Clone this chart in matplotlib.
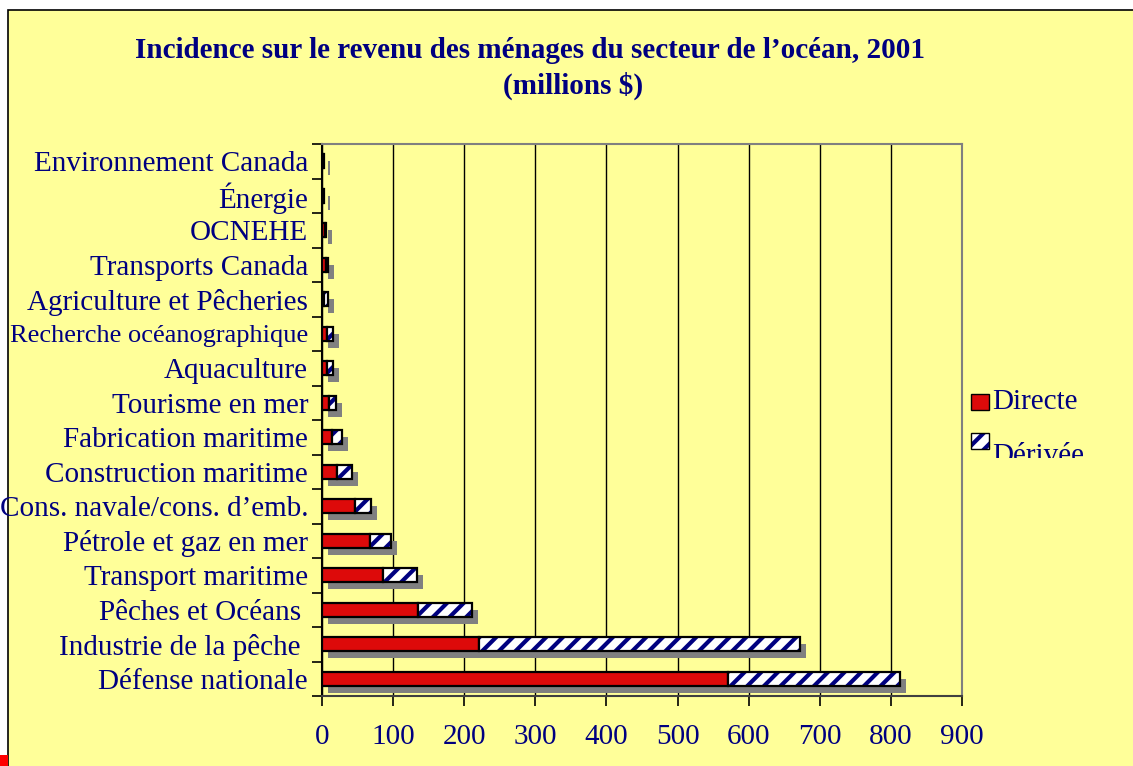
import numpy as np
import matplotlib
matplotlib.use('Agg')
import matplotlib.pyplot as plt
import matplotlib.transforms as mtransforms
from matplotlib.patches import Rectangle

# data, top to bottom as in the chart
categories = ["Environnement Canada", "Énergie", "OCNEHE", "Transports Canada",
              "Agriculture et Pêcheries", "Recherche océanographique", "Aquaculture",
              "Tourisme en mer", "Fabrication maritime", "Construction maritime",
              "Cons. navale/cons. d\u2019emb.", "Pétrole et gaz en mer",
              "Transport maritime", "Pêches et Océans ", "Industrie de la pêche ",
              "Défense nationale"]
directe = [2, 2, 4, 6, 3, 7, 6.5, 10, 13.5, 20.5, 46, 67.5, 86, 135, 221, 571]
derivee = [1, 1, 1, 2, 5, 8, 8.5, 9, 14.5, 21.5, 23, 29.5, 48, 76, 451, 242]
xticks = [0, 100, 200, 300, 400, 500, 600, 700, 800, 900]

YELLOW = "#FFFF99"
NAVY = "#000080"
RED = "#DD0A0A"

plt.rcParams['font.family'] = ['Liberation Serif', 'DejaVu Serif']
plt.rcParams['hatch.linewidth'] = 3.0

fig = plt.figure(figsize=(11.33, 7.66), dpi=100)
fig.patch.set_facecolor("white")
# yellow chart area with black left/top border
fig.patches.append(Rectangle((8 / 1133, -0.01), 1.0, 1.01 - 10 / 766, transform=fig.transFigure,
                             facecolor=YELLOW, edgecolor="black", lw=1.2, zorder=-2))
fig.patches.append(Rectangle((0, 0), 8 / 1133, 11 / 766, transform=fig.transFigure,
                             facecolor="red", edgecolor="none", zorder=-1))

ax = fig.add_axes([322 / 1133, 1 - 696 / 766, 640 / 1133, (696 - 144) / 766])
ax.set_facecolor(YELLOW)

y = np.arange(len(categories))
d = np.array(directe)
r = np.array(derivee)
h = 0.42

# drop shadows
shadow = mtransforms.offset_copy(ax.transData, fig=fig, x=6, y=-7, units='dots')
ax.barh(y, d + r, height=h, color="#808080", edgecolor="none", transform=shadow, zorder=2)

ax.barh(y, d, height=h, color=RED, edgecolor="black", linewidth=1.6, zorder=3)
ax.barh(y, r, left=d, height=h, color="white", edgecolor=NAVY, linewidth=0, hatch="//", zorder=3)
ax.barh(y, r, left=d, height=h, color="none", edgecolor="black", linewidth=1.6, zorder=4)

ax.set_xlim(0, 900)
ax.set_ylim(len(categories) - 0.5, -0.5)
ax.set_xticks(xticks)
ax.set_yticks(y)
ax.set_yticks(np.arange(len(categories) + 1) - 0.5, minor=True)
ax.set_yticklabels(categories)
ax.xaxis.grid(True, color="black", lw=1.0, zorder=1)
ax.set_axisbelow(True)

ax.tick_params(axis='y', which='major', length=0, pad=10, labelsize=21, labelcolor=NAVY)
ax.tick_params(axis='y', which='minor', length=7, width=1.2, color="black", direction='out')
ax.tick_params(axis='x', length=7, width=1.2, direction='out', pad=13, labelsize=21,
               labelcolor=NAVY)
for lbl in ax.get_yticklabels():
    if lbl.get_text().startswith("Recherche"):
        lbl.set_fontsize(19)

ax.spines['left'].set_color("black")
ax.spines['left'].set_linewidth(1.5)
ax.spines['bottom'].set_color("#404040")
ax.spines['bottom'].set_linewidth(1.5)
ax.spines['top'].set_color("#808080")
ax.spines['right'].set_color("#808080")
ax.spines['top'].set_linewidth(1.5)
ax.spines['right'].set_linewidth(1.5)

fig.text(530 / 1133, 1 - 51 / 766, "Incidence sur le revenu des ménages du secteur de l\u2019océan, 2001",
         ha='center', va='center', fontsize=21, fontweight='bold', color=NAVY)
fig.text(573 / 1133, 1 - 86 / 766, "(millions $)",
         ha='center', va='center', fontsize=21, fontweight='bold', color=NAVY)

# legend (clipped at the bottom like the original)
clip = Rectangle((960 / 1133, 1 - 458 / 766), 170 / 1133, 90 / 766,
                 transform=fig.transFigure, facecolor="none", edgecolor="none")
fig.patches.append(clip)
fig.patches.append(Rectangle((971 / 1133, 1 - 410 / 766), 18 / 1133, 16 / 766,
                             transform=fig.transFigure, facecolor=RED,
                             edgecolor="black", lw=1.0))
fig.patches.append(Rectangle((971 / 1133, 1 - 449 / 766), 18 / 1133, 16 / 766,
                             transform=fig.transFigure, facecolor="white",
                             edgecolor=NAVY, lw=0, hatch="//"))
fig.patches.append(Rectangle((971 / 1133, 1 - 449 / 766), 18 / 1133, 16 / 766,
                             transform=fig.transFigure, facecolor="none",
                             edgecolor="black", lw=1.0))
fig.text(992 / 1133, 1 - 402 / 766, "Directe", ha='left', va='center',
         fontsize=21, color=NAVY)
t = fig.text(992 / 1133, 1 - 456 / 766, "Dérivée", ha='left', va='center',
             fontsize=21, color=NAVY)
t.set_clip_path(clip)
t.set_clip_on(True)

fig.savefig("out.png", dpi=100, facecolor=fig.get_facecolor())
